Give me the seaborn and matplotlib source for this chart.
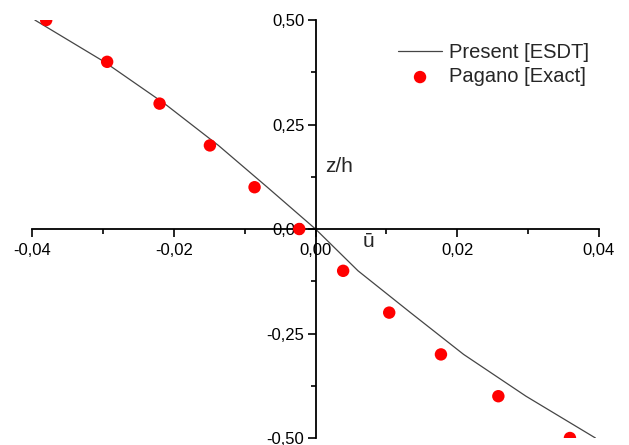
import matplotlib
matplotlib.use("Agg")
import matplotlib.pyplot as plt
import seaborn as sns
import pandas as pd
from matplotlib.ticker import MultipleLocator, FuncFormatter

# through-thickness displacement
z_line = [0.5, 0.4, 0.3, 0.2, 0.1, 0.0, -0.1, -0.2, -0.3, -0.4, -0.5]
u_line = [-0.0396, -0.0298, -0.0213, -0.0137, -0.0068, 0.0, 0.0060, 0.0134, 0.0209, 0.0297, 0.0395]

z_exact = [0.5, 0.4, 0.3, 0.2, 0.1, 0.0, -0.1, -0.2, -0.3, -0.4, -0.5]
u_exact = [-0.0380, -0.0294, -0.0220, -0.0149, -0.0086, -0.0023, 0.0039, 0.0104, 0.0177, 0.0258, 0.0359]

sns.set_style("white")
plt.rcParams['font.family'] = ['Liberation Sans', 'DejaVu Sans']

df_line = pd.DataFrame({'u': u_line, 'z': z_line})
df_exact = pd.DataFrame({'u': u_exact, 'z': z_exact})

fig = plt.figure(figsize=(6.29, 4.45), dpi=100)
ax = fig.add_axes([0.0509, 0.0157, 0.9014, 0.9393])

sns.lineplot(data=df_line, x='u', y='z', sort=False, estimator=None,
             color='#454545', linewidth=0.9, label='Present [ESDT]', ax=ax)
sns.scatterplot(data=df_exact, x='u', y='z', color='#ff0000', s=80,
                edgecolor='none', label='Pagano [Exact]', ax=ax, zorder=3)

ax.set_xlim(-0.04, 0.04)
ax.set_ylim(-0.5, 0.5)

ax.spines['left'].set_position(('data', 0))
ax.spines['bottom'].set_position(('data', 0))
ax.spines['top'].set_visible(False)
ax.spines['right'].set_visible(False)
for s in ('left', 'bottom'):
    ax.spines[s].set_linewidth(1.3)
    ax.spines[s].set_color('black')

ax.xaxis.set_major_locator(MultipleLocator(0.02))
ax.xaxis.set_minor_locator(MultipleLocator(0.01))
ax.yaxis.set_major_locator(MultipleLocator(0.25))
ax.yaxis.set_minor_locator(MultipleLocator(0.125))

fmt = FuncFormatter(lambda v, p: f"{v:.2f}".replace('.', ',').replace('-0,00', '0,00'))
ax.xaxis.set_major_formatter(fmt)
ax.yaxis.set_major_formatter(fmt)

ax.tick_params(axis='both', which='both', bottom=True, left=True,
               top=False, right=False)
ax.tick_params(axis='both', which='major', direction='out', length=6,
               width=1.2, labelsize=12, color='black', labelcolor='black')
ax.tick_params(axis='both', which='minor', direction='out', length=3.5,
               width=1.2, color='black')
ax.tick_params(axis='x', which='major', pad=4)
ax.tick_params(axis='y', which='major', pad=2)

ax.set_xlabel('')
ax.set_ylabel('')
ax.text(0.00135, 0.15, 'z/h', fontsize=15, ha='left', va='center')
ax.text(0.0066, -0.03, 'ū', fontsize=15, ha='left', va='center')

ax.legend(loc='upper right', bbox_to_anchor=(0.997, 0.965), frameon=False,
          fontsize=14.5, handlelength=2.2, handletextpad=0.35, labelspacing=0.28,
          borderaxespad=0)

fig.savefig('out.png', dpi=100)
